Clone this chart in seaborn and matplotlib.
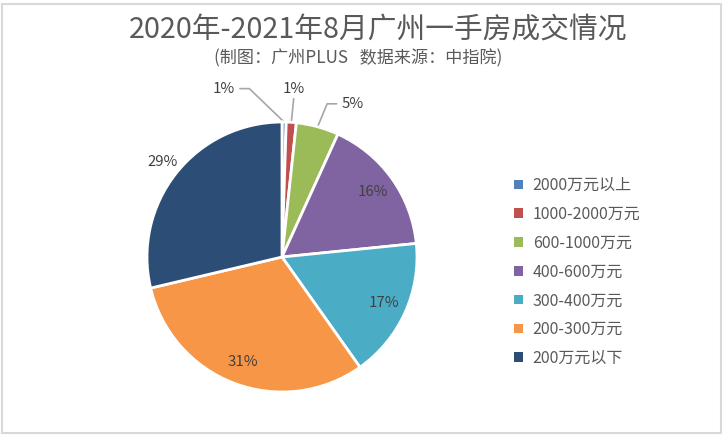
import matplotlib
matplotlib.use("Agg")
import matplotlib.pyplot as plt
import seaborn as sns
import numpy as np
from matplotlib.patches import Rectangle

# data (share of transactions, %)
categories = ["2000万元以上", "1000-2000万元", "600-1000万元", "400-600万元",
              "300-400万元", "200-300万元", "200万元以下"]
shares = [0.5, 1.2, 5.1, 16.6, 16.8, 31.1, 28.7]
pct_labels = ["1%", "1%", "5%", "16%", "17%", "31%", "29%"]
colors = ["#4F81BD", "#C0504D", "#9BBB59", "#8064A2", "#4BACC6", "#F79646", "#2C4D75"]

# label placement (radius in pie units, angular nudge in degrees clockwise)
label_dist = [1.32, 1.25, 1.25, 0.83, 0.83, 0.83, 1.13]
label_turn = [-20, 0, 9.5, 0, 0, 0, 0]

sns.set_theme(style="white")
plt.rcParams["font.family"] = ["Noto Sans CJK SC", "DejaVu Sans"]

W, H = 723, 437
fig = plt.figure(figsize=(W / 100, H / 100), dpi=100)
fig.patch.set_facecolor("white")
fig.patches.append(Rectangle((2 / W, 4 / H), (W - 4) / W, (H - 8) / H, transform=fig.transFigure,
                             fill=False, edgecolor="#D9D9D9", linewidth=1.5))

ax = fig.add_axes([147 / W, 45 / H, 270 / W, 270 / H])
wedges, _ = ax.pie(shares, colors=sns.color_palette(colors), startangle=90, counterclock=False,
                   wedgeprops=dict(edgecolor="white", linewidth=2))
ax.set_xlim(-1, 1)
ax.set_ylim(-1, 1)
ax.set_aspect("equal")

for w, txt, r, turn in zip(wedges, pct_labels, label_dist, label_turn):
    mid = np.deg2rad((w.theta1 + w.theta2) / 2)
    ex, ey = np.cos(mid), np.sin(mid)
    ang = mid - np.deg2rad(turn)
    lx, ly = r * np.cos(ang), r * np.sin(ang)
    ax.text(lx, ly, txt, ha="center", va="center", fontsize=10.8, color="#404040")
    if r > 1.2:
        if abs(lx - ex) < 0.1:
            xs, ys = [ex, lx], [ey, ly - 0.075]
        else:
            s = 1 if lx < ex else -1
            xs, ys = [ex, lx + s * 0.19, lx + s * 0.12], [ey, ly, ly]
        ax.plot(xs, ys, color="#A6A6A6", linewidth=1.2, clip_on=False, zorder=0)

# legend with plain square swatches
handles = [Rectangle((0, 0), 1, 1, facecolor=c, edgecolor="none") for c in colors]
fig.legend(handles, categories, loc="center left", bbox_to_anchor=(500 / W, 1 - 272 / H),
           frameon=False, fontsize=11.5, handlelength=0.55, handleheight=0.55,
           handletextpad=0.6, labelspacing=0.74, labelcolor="#595959")

fig.text(378 / W, 1 - 31 / H, "2020年-2021年8月广州一手房成交情况", ha="center", va="center",
         fontsize=20.7, color="#595959")
fig.text(358 / W, 1 - 58 / H, "(制图：广州PLUS   数据来源：中指院)", ha="center", va="center",
         fontsize=12.3, color="#595959")

fig.savefig("out.png", dpi=100)
